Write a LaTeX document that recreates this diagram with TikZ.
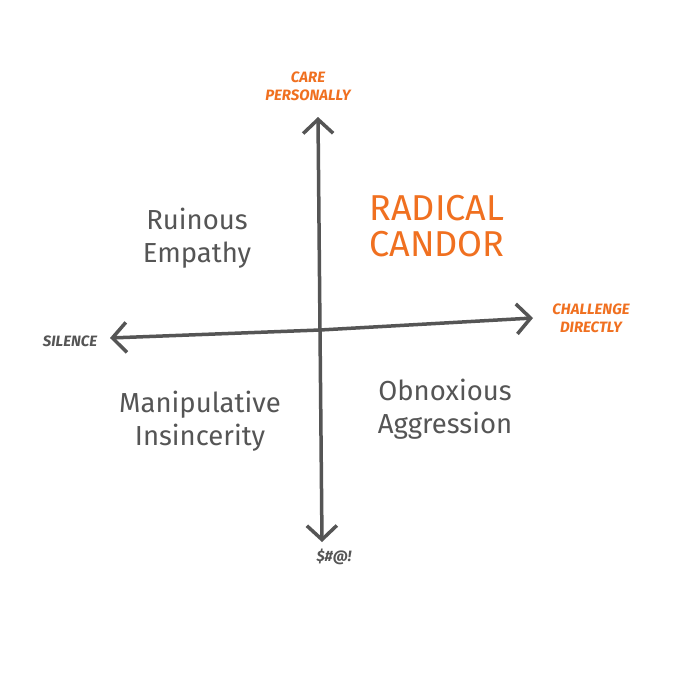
\documentclass[tikz,border=0pt]{standalone}
\usepackage{fontspec}
\setmainfont{Fira Sans}
\usetikzlibrary{arrows.meta}
\definecolor{rcorange}{HTML}{F07020}
\definecolor{rcgray}{HTML}{555555}
\tikzset{
  axis/.style={draw=rcgray, line width=3.5pt, line cap=round,
    -{Straight Barb[length=14pt,width=30pt,line width=3.5pt]}},
  big/.style={text=rcgray, font=\fontsize{27.5}{33}\selectfont, align=center},
  orbig/.style={text=rcorange, font=\fontsize{36}{36}\selectfont, align=center},
  small/.style={text=rcgray, font=\fontsize{15}{16}\selectfont\bfseries\itshape, align=center},
  orsmall/.style={text=rcorange, font=\fontsize{15}{18}\selectfont\bfseries\itshape, align=center}
}
\begin{document}
\begin{tikzpicture}[x=1pt,y=-1pt]
\useasboundingbox (0,0) rectangle (675,675);
\fill[white] (0,0) rectangle (675,675);
\coordinate (c) at (320,330);
\coordinate (top) at (318,117);
\coordinate (bot) at (322,542);
\coordinate (left) at (110,338);
\coordinate (right) at (533,318);
\draw[axis] (c) -- (top);
\draw[axis] (c) -- (bot);
\draw[axis] (c) -- (left);
\draw[axis] (c) -- (right);
\node[orsmall] (care) at (308,86) {CARE\\PERSONALLY};
\node[orsmall] (chal) at (591,318) {CHALLENGE\\DIRECTLY};
\node[small] (sil) at (70,341) {SILENCE};
\node[small] (sw) at (334,557) {\$\#@!};
\node[orbig] (rc) at (437,226) {RADICAL\\CANDOR};
\node[big] (re) at (197,238) {Ruinous\\Empathy};
\node[big] (mi) at (200,421) {Manipulative\\Insincerity};
\node[big] (oa) at (445,409) {Obnoxious\\Aggression};
\end{tikzpicture}
\end{document}
